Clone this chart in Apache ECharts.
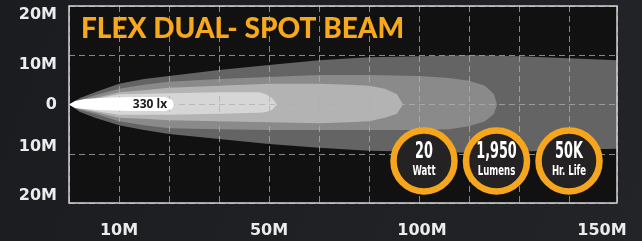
<!DOCTYPE html>
<html>
<head>
<meta charset="utf-8">
<title>Flex Dual - Spot Beam</title>
<script src="https://cdn.jsdelivr.net/npm/echarts@6/dist/echarts.min.js"></script>
<style>
  html, body { margin: 0; padding: 0; background: #1d1e22; }
  #chart { width: 642px; height: 241px; }
</style>
</head>
<body>
<div id="chart"></div>
<script>
// beam title + badges
const chartTitle = 'FLEX DUAL- SPOT BEAM';
const luxLabel = '330 lx';
const badgeValues = ['20', '1,950', '50K'];
const badgeUnits = ['Watt', 'Lumens', 'Hr. Life'];

// tick labels (the printed labels are not evenly spaced on the grid)
const xLabelValues = [10, 40, 70.6, 106.6];
const xLabelTexts = ['10M', '50M', '100M', '150M'];
const yLabelValues = [18.2, 8.0, 0, -8.6, -18.6];
const yLabelTexts = ['20M', '10M', '0', '10M', '20M'];

// beam contours, [distance, width] pairs, outer -> inner
const outerTop = [[0,0],[2.2,1.3],[5.2,2.5],[10,4.2],[15,5.2],[20,5.8],[30,7.0],[40,8.0],[50,9.0],[60,9.6],[70,9.8],[80,10.0],[90,9.8],[100,9.4],[109.6,9.0]];
const outerBottom = [[0,0],[2.2,-1.5],[5.2,-2.7],[10,-4.2],[15,-5.2],[20,-6.0],[30,-7.0],[40,-8.0],[50,-8.8],[60,-9.4],[70,-9.6],[80,-9.8],[90,-9.6],[100,-9.2],[109.6,-9.0]];
const midTop = [[0,0],[2.2,0.9],[5.2,1.9],[10,3.2],[15,4.0],[20,4.6],[30,5.2],[40,5.6],[50,6.0],[60,6.0],[70,5.8],[76,5.4],[80,4.8],[83.2,3.8],[85,2.1],[85.6,0]];
const midBottom = [[0,0],[2.2,-1.1],[5.2,-1.9],[10,-3.4],[15,-4.2],[20,-4.8],[30,-5.0],[40,-5.2],[50,-5.2],[60,-5.2],[70,-5.2],[76,-5.0],[80,-4.4],[83.2,-3.4],[85,-1.9],[85.6,0]];
const lightTop = [[0,0],[2.2,0.7],[5.2,1.3],[10,2.5],[15,2.9],[20,3.4],[30,3.8],[40,4.2],[50,4.2],[56,4.0],[60,3.8],[63.2,3.2],[65.6,2.1],[66.8,0]];
const lightBottom = [[0,0],[2.2,-0.9],[5.2,-1.5],[10,-2.7],[15,-2.9],[20,-3.2],[30,-3.4],[40,-3.6],[50,-3.8],[56,-3.6],[60,-3.4],[63.2,-2.7],[65.6,-1.9],[66.8,0]];
const paleTop = [[0,0],[2.2,0.5],[5.2,1.1],[10,2.1],[20,2.3],[30,2.5],[38,2.5],[39.4,2.1],[40.6,1.3],[41.6,0]];
const paleBottom = [[0,0],[2.2,-0.7],[5.2,-1.3],[10,-2.1],[20,-2.1],[30,-1.9],[38,-1.7],[39.4,-1.5],[40.6,-1.1],[41.6,0]];
const hotTop = [[0,0],[1.2,0.7],[3.2,1.1],[6.2,1.3],[12.2,1.5],[19.2,1.5],[20.6,0.9],[21,0]];
const hotBottom = [[0,0],[1.2,-0.7],[3.2,-0.9],[6.2,-1.1],[12.2,-1.3],[19.2,-1.3],[20.6,-0.9],[21,0]];

const layers = [
  { top: outerTop, bottom: outerBottom, color: '#646464' },
  { top: midTop, bottom: midBottom, color: '#8a8a8a' },
  { top: lightTop, bottom: lightBottom, color: '#b3b3b3' },
  { top: paleTop, bottom: paleBottom, color: '#d6d6d6' }
];
const hotSpot = { top: hotTop, bottom: hotBottom, color: '#ffffff' };

const chart = echarts.init(document.getElementById('chart'));

function layerPolygon(layer, api) {
  const pts = layer.top.concat(layer.bottom.slice().reverse()).map(p => api.coord(p));
  return { type: 'polygon', shape: { points: pts }, style: { fill: layer.color } };
}

function renderLayer(params, api) {
  return layerPolygon(layers[params.dataIndex], api);
}

// hot spot drawn above the grid lines, with the lux reading on it
function renderHotSpot(params, api) {
  const c = api.coord([16.2, 0]);
  return {
    type: 'group',
    children: [
      layerPolygon(hotSpot, api),
      {
        type: 'text', x: c[0], y: c[1],
        style: {
          text: luxLabel, fill: '#1a1a1a',
          font: 'bold 12px "Open Sans"',
          align: 'center', verticalAlign: 'middle'
        }
      }
    ]
  };
}

// badges along the bottom right
const badgeGraphics = [];
badgeValues.forEach((v, i) => {
  const cx = 424 + i * 72.5, cy = 161;
  badgeGraphics.push({
    type: 'circle', z: 20,
    shape: { cx: cx, cy: cy, r: 30.5 },
    style: { fill: '#242222', stroke: '#f6a61c', lineWidth: 6.5 }
  });
  badgeGraphics.push({
    type: 'text', z: 21, x: cx, y: 152, scaleX: 0.62,
    style: { text: v, fill: '#ffffff', font: 'bold 23px "DejaVu Sans Condensed"', align: 'center', verticalAlign: 'middle' }
  });
  badgeGraphics.push({
    type: 'text', z: 21, x: cx, y: 171, scaleX: 0.68,
    style: { text: badgeUnits[i], fill: '#ffffff', font: 'bold 14px "DejaVu Sans Condensed"', align: 'center', verticalAlign: 'middle' }
  });
});

const option = {
  backgroundColor: {
    type: 'linear', x: 0, y: 0, x2: 1, y2: 1,
    colorStops: [{ offset: 0, color: '#1b1c20' }, { offset: 1, color: '#222428' }]
  },
  animation: false,
  grid: {
    left: 69, right: 25, top: 6, bottom: 38,
    show: true, backgroundColor: '#121112', borderWidth: 0
  },
  xAxis: {
    type: 'value', min: 0, max: 109.6, interval: 10, z: 3,
    axisLine: { show: false }, axisTick: { show: false },
    splitLine: { show: true, lineStyle: { color: 'rgba(175,175,175,0.75)', type: [6, 4], width: 1 } },
    axisLabel: {
      customValues: xLabelValues,
      formatter: v => xLabelTexts[xLabelValues.indexOf(v)],
      color: '#ececec', fontFamily: 'DejaVu Sans', fontWeight: 'bold', fontSize: 16, margin: 20
    }
  },
  yAxis: {
    type: 'value', min: -20, max: 20, interval: 10, z: 3,
    axisLine: { show: false }, axisTick: { show: false },
    splitLine: { show: true, lineStyle: { color: 'rgba(175,175,175,0.75)', type: [6, 4], width: 1 } },
    axisLabel: {
      customValues: yLabelValues,
      formatter: v => yLabelTexts[yLabelValues.indexOf(v)],
      color: '#ececec', fontFamily: 'DejaVu Sans', fontWeight: 'bold', fontSize: 16, margin: 12
    }
  },
  series: [
    {
      type: 'custom', z: 2,
      renderItem: renderLayer,
      data: layers.map(() => [0, 0]),
      clip: true
    },
    {
      type: 'custom', z: 5,
      renderItem: renderHotSpot,
      data: [[0, 0]],
      clip: true
    }
  ],
  graphic: [
    {
      type: 'rect', z: 10, silent: true,
      shape: { x: 69, y: 6, width: 548, height: 197 },
      style: { fill: 'none', stroke: '#d4d4d4', lineWidth: 1.5 }
    },
    {
      type: 'text', z: 10, x: 81, y: 29,
      style: { text: chartTitle, fill: '#f7a81b', font: '900 28px Lato', verticalAlign: 'middle' }
    }
  ].concat(badgeGraphics)
};

chart.setOption(option);
</script>
</body>
</html>
